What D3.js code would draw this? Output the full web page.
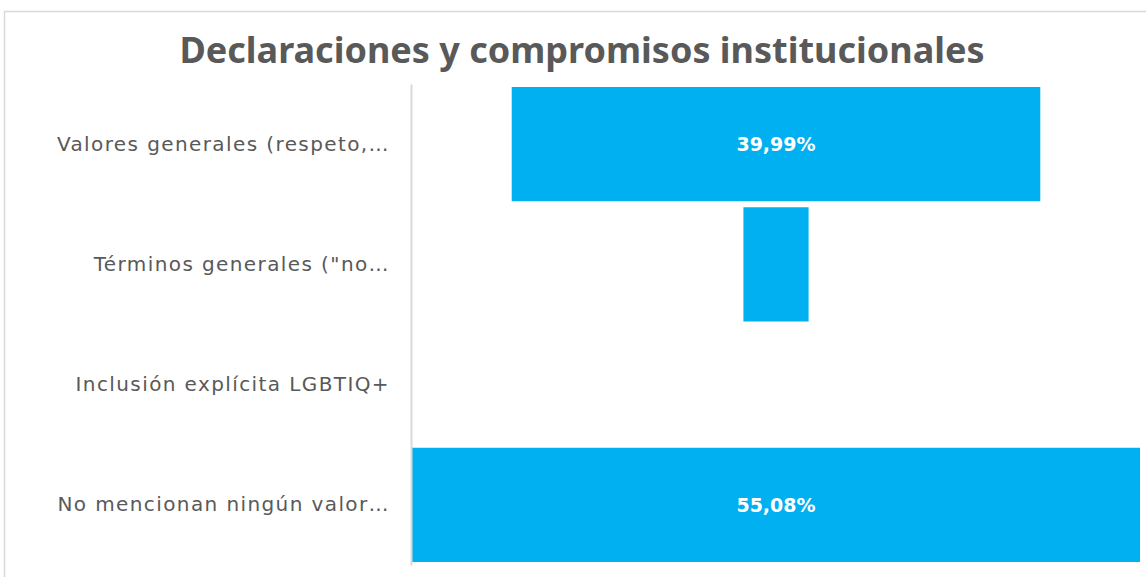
<!DOCTYPE html>
<html>
    <head>
        <meta charset="utf-8">
        <title>Declaraciones y compromisos institucionales</title>
        <script src="https://d3js.org/d3.v7.min.js"></script>
        <style type="text/css">
            body {
                margin: 0;
                background: #fff;
            }
            #chart {
                width: 1146px;
                height: 577px;
                display: block;
            }
            .cat text {
                font: 20px "DejaVu Sans", sans-serif;
                letter-spacing: 1.4px;
                fill: #595959;
            }
        </style>
    </head>
    <body>
        <svg id="chart"></svg>
        <script>
            // categories and values (percent)
            var categories = [
                "Valores generales (respeto,…",
                "Términos generales (\"no…",
                "Inclusión explícita LGBTIQ+",
                "No mencionan ningún valor…"
            ];
            var values = [39.99, 4.93, 0, 55.08];
            var valueLabels = ["39,99%", "", "", "55,08%"];

            var title = "Declaraciones y compromisos institucionales";

            var width = 1146;
            var height = 577;
            var plot = {left: 412, right: 1140, top: 84, bottom: 565};

            var svg = d3.select("#chart")
                .attr("width", width)
                .attr("height", height)
            ;

            // chart frame
            svg.append("rect")
                .attr("x", 4.5)
                .attr("y", 11.5)
                .attr("width", width + 20)
                .attr("height", height + 20)
                .attr("fill", "#fff")
                .attr("stroke", "#d9d9d9")
                .attr("stroke-width", 1.5)
            ;

            svg.append("text")
                .attr("x", 582)
                .attr("y", 63)
                .attr("text-anchor", "middle")
                .attr("fill", "#595959")
                .style("font", "bold 36px 'Noto Sans', sans-serif")
                .text(title)
            ;

            var y = d3.scaleBand()
                .domain(categories)
                .range([plot.top, plot.bottom])
                .paddingInner(0.05)
                .paddingOuter(0.025)
            ;

            // funnel: bars centred on the middle of the plot area
            var half = d3.scaleLinear()
                .domain([0, d3.max(values)])
                .range([0, (plot.right - plot.left) / 2])
            ;
            var cx = (plot.left + plot.right) / 2;

            var data = categories.map((c, i) => ({name: c, value: values[i], label: valueLabels[i]}));

            svg.selectAll(".bar")
                .data(data.filter(d => d.value > 0))
                .enter().append("rect")
                    .attr("class", "bar")
                    .attr("x", d => cx - half(d.value))
                    .attr("y", d => y(d.name))
                    .attr("width", d => 2 * half(d.value))
                    .attr("height", y.bandwidth())
                    .attr("fill", "#00b0f0")
            ;

            svg.selectAll(".vlabel")
                .data(data.filter(d => d.label))
                .enter().append("text")
                    .attr("class", "vlabel")
                    .attr("x", cx)
                    .attr("y", d => y(d.name) + y.bandwidth() / 2)
                    .attr("dy", "0.35em")
                    .attr("text-anchor", "middle")
                    .attr("fill", "#fff")
                    .style("font", "bold 19px 'DejaVu Sans', sans-serif")
                    .text(d => d.label)
            ;

            // category axis
            var axis = svg.append("g")
                .attr("class", "cat")
                .attr("transform", `translate(${plot.left - 1},0)`)
                .call(d3.axisLeft(y).tickSize(0).tickPadding(21))
            ;
            axis.select(".domain")
                .attr("stroke", "#d9d9d9")
                .attr("stroke-width", 2)
            ;
        </script>
    </body>
</html>
